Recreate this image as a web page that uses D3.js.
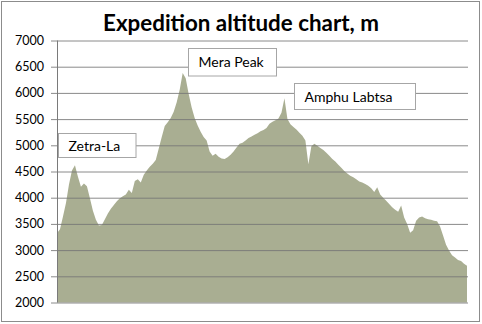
<!DOCTYPE html>
<html><head><meta charset="utf-8">
<script src="https://cdn.jsdelivr.net/npm/d3@7"></script>
<style>html,body{margin:0;padding:0;background:#fff;}svg{display:block;}</style>
</head><body>
<svg id="c" width="482" height="324"></svg>
<script>
const title = "Expedition altitude chart, m";
const yTicks = [2000, 2500, 3000, 3500, 4000, 4500, 5000, 5500, 6000, 6500, 7000];
// altitude profile (m), evenly spaced samples along the route
const altitude = [
3320,3400,3640,3900,4250,4520,4620,4400,4210,4270,
4220,3990,3750,3580,3470,3480,3590,3700,3790,3860,
3930,3990,4030,4060,4150,4090,4320,4350,4290,4440,
4520,4590,4650,4720,4940,5160,5370,5440,5520,5640,
5820,6060,6380,6280,5980,5720,5520,5380,5260,5160,
5090,4880,4800,4840,4780,4750,4740,4770,4820,4880,
4960,5030,5050,5090,5140,5170,5200,5230,5270,5290,
5330,5410,5450,5480,5510,5620,5900,5500,5400,5350,
5300,5240,5180,5090,4640,4980,5030,4990,4950,4910,
4860,4800,4740,4690,4630,4570,4510,4460,4420,4390,
4350,4310,4290,4260,4230,4180,4110,4200,4060,4000,
3940,3880,3820,3770,3730,3850,3620,3500,3330,3380,
3560,3620,3640,3610,3590,3580,3560,3550,3450,3280,
3100,2990,2900,2860,2810,2790,2740,2700
];
const annotations = ["Zetra-La", "Mera Peak", "Amphu Labtsa"];

const FONT = "Lato, 'Open Sans', 'Liberation Sans', sans-serif";
const svg = d3.select("#c");
svg.append("rect").attr("x",1.5).attr("y",1.5).attr("width",478).attr("height",320)
  .attr("fill","#fff").attr("stroke","#8c8c8c").attr("stroke-width",1);

const pL = 57, pR = 467, pT = 40.5, pB = 302.5;
const x = d3.scaleLinear().domain([0, altitude.length-1]).range([pL, pR]);
const y = d3.scaleLinear().domain([2000, 7000]).range([pB, pT]);

// area
const area = d3.area().x((d,i)=>x(i)).y0(y(2000)).y1(d=>y(d));
svg.append("path").datum(altitude).attr("d", area).attr("fill","#a9ae92");

// gridlines + labels
const yAxis = d3.axisLeft(y).tickValues(yTicks).tickSize(-(468-pL)).tickPadding(8).tickFormat(d3.format("d"));
const g = svg.append("g").attr("transform",`translate(${pL},0)`).call(yAxis);
g.select(".domain").remove();
g.selectAll(".tick line").attr("stroke","#757575").attr("stroke-opacity",0.85).attr("x1",-6);
g.selectAll(".tick text").attr("font-family",FONT)
  .attr("font-size","12.5px").attr("fill","#000").attr("x",-13);
svg.append("line").attr("x1",pL+0.5).attr("x2",pL+0.5).attr("y1",pT).attr("y2",pB)
  .attr("stroke","#7a7a7a");

// annotation boxes
const boxes = [
  {x0: 58.5, y0: 133.5, x1: 136, y1: 157.5},
  {x0: 188.5, y0: 48.5, x1: 276.5, y1: 76},
  {x0: 294.5, y0: 83.5, x1: 415.5, y1: 109.5}
];
annotations.forEach((t,k)=>{
  const b = boxes[k];
  svg.append("rect").attr("x",b.x0).attr("y",b.y0).attr("width",b.x1-b.x0).attr("height",b.y1-b.y0)
    .attr("fill","#fff").attr("stroke","#a6a6a6");
  svg.append("text").attr("x",b.x0+10).attr("y",(b.y0+b.y1)/2+5)
    .attr("font-family",FONT).attr("font-size","14px")
    .attr("fill","#000").text(t);
});

// title
const tt = svg.append("text").attr("x",241).attr("y",31).attr("text-anchor","middle")
  .attr("font-family",FONT).attr("font-weight","bold")
  .attr("font-size","20px").attr("fill","#000").text(title);
const tw = tt.node().getComputedTextLength();
tt.attr("font-size", (20*276/tw).toFixed(2)+"px");
</script>
</body></html>
